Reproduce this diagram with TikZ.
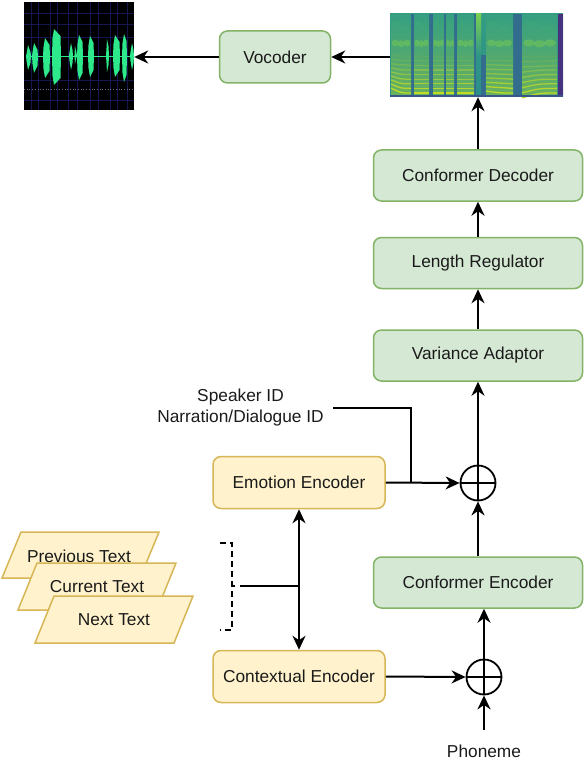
\documentclass[tikz,border=0pt]{standalone}
\usepackage{fontspec}
\setmainfont{Liberation Sans}
\usetikzlibrary{arrows.meta}
\definecolor{gfill}{HTML}{D5E8D4}
\definecolor{gdraw}{HTML}{82B366}
\definecolor{yfill}{HTML}{FFF2CC}
\definecolor{ydraw}{HTML}{D6B656}
\definecolor{txt}{HTML}{1A1A1A}
\definecolor{wgreen}{HTML}{2EE98B}
\definecolor{wgrid}{HTML}{16164E}
\definecolor{vyellow}{HTML}{C8E020}
\definecolor{vteal}{HTML}{2A928A}
\definecolor{vgreen}{HTML}{5EC962}
\definecolor{vblue}{HTML}{33668D}
\definecolor{vpurple}{HTML}{46327E}
\definecolor{vlg}{HTML}{7AD151}
\tikzset{
  gbox/.style={draw=gdraw, fill=gfill, rounded corners=8pt, line width=1.5pt,
    minimum width=209pt, minimum height=51pt, inner sep=0pt, text=txt,
    font=\fontsize{17.3}{20}\selectfont},
  ybox/.style={draw=ydraw, fill=yfill, rounded corners=8pt, line width=1.5pt,
    minimum width=172pt, minimum height=52pt, inner sep=0pt, text=txt,
    font=\fontsize{17.3}{20}\selectfont},
  lbl/.style={text=txt, font=\fontsize{17.3}{21}\selectfont, inner sep=0pt},
  plus/.style={draw=black, circle, line width=1.8pt, minimum size=35pt, inner sep=0pt},
  conn/.style={line width=2pt, -{Stealth[length=14pt,width=13pt,inset=4.5pt]}},
  conntwo/.style={line width=2pt, {Stealth[length=14pt,width=13pt,inset=4.5pt]}-{Stealth[length=14pt,width=13pt,inset=4.5pt]}},
  wire/.style={line width=2pt},
  para/.style={draw=ydraw, fill=yfill, line width=1.5pt, line join=miter},
}
\begin{document}
\begin{tikzpicture}[x=1pt,y=-1pt]
\useasboundingbox (0,0) rectangle (584,762);

% ---------- waveform image ----------
\node[minimum width=110pt, minimum height=108pt, inner sep=0pt] (wave) at (79,56) {};
\fill[black] (24,2) rectangle (134,110);
\foreach \gx in {31,38,50,57,68,77,90,98,110,117,127} \draw[wgrid, line width=0.7pt] (\gx,2) -- (\gx,110);
\foreach \gy in {13,24,37,80,100} \draw[wgrid, line width=0.7pt] (24,\gy) -- (134,\gy);
\draw[wgrid!60!white, line width=0.7pt, dotted] (24,89) -- (134,89);
\draw[wgreen, line width=0.8pt] (26,56) -- (134,56);
\foreach \xa/\xb/\xm/\ya/\yb in {26/31/28/45/70, 32/38/34/43/73, 43/50/45/38/78, 52/61/54/29/85,
   69/73/71/43/70, 74/77/75/46/64, 77/83/79/35/80, 88/94/90/36/77, 106/109/107/39/72,
   113/120/115/35/77, 122/127/124/34/82, 130/134/132/43/70}
{
  \fill[wgreen] (\xa,56) -- (\xa+0.5,{\ya+9}) -- (\xm,\ya) -- (\xb-0.5,{\ya+7}) -- (\xb,56)
     -- (\xb-0.5,{\yb-7}) -- (\xm,\yb) -- (\xa+0.5,{\yb-9}) -- cycle;
}

% ---------- spectrogram image ----------
\node[minimum width=173pt, minimum height=83pt, inner sep=0pt] (spec) at (476.5,55.5) {};
\fill[top color=vteal!80!vgreen, bottom color=vteal!90!vblue] (390,14) rectangle (563,97);
\foreach \xa/\xb in {411/414, 429/433, 444/446, 454/457, 474/476, 513/522}
  \fill[vblue!85!vteal] (\xa,14) rectangle (\xb,97);
\fill[vblue!85!vteal] (481,55) rectangle (486,97);
\fill[top color=vlg, bottom color=vteal] (476,14) rectangle (481,58);
\foreach \xa/\xb/\sl in {391/411/-5, 414/429/0, 433/444/0, 446/454/0, 457/474/0, 486/513/-2, 522/557/5}
{
  \fill[top color=vteal!75!vgreen, middle color=vteal!80!vgreen, bottom color=vteal!60!vyellow] (\xa,16) rectangle (\xb,95);
  \foreach \j in {0,1,2}
    \fill[vgreen!70!vyellow, opacity=0.45] ({\xa+(\xb-\xa)*(0.2+0.3*\j)},{43+1.5*\j-1.5*\j*\j/2}) ellipse ({(\xb-\xa)*0.17} and 3.5);
  \foreach \j in {0,1}
    \fill[vteal!60!vgreen, opacity=0.5] ({\xa+(\xb-\xa)*(0.3+0.4*\j)},{24+4*\j}) ellipse ({(\xb-\xa)*0.2} and 3);
  \foreach \k in {0,...,8}
  {
    \pgfmathtruncatemacro{\pc}{95-8*\k}
    \draw[vyellow!\pc!vteal, line width=1.3pt] (\xa,{93-4.6*\k+\sl*(1-\k/9)}) .. controls ({\xa+(\xb-\xa)/2},{93-4.6*\k}) .. (\xb,{93-4.6*\k});
  }
}
\fill[vpurple] (558,14) rectangle (563,97);
\fill[vblue!70!vpurple] (390,95) rectangle (563,97);

% ---------- boxes ----------
\node[gbox, minimum width=111pt, minimum height=52pt] (voc) at (275,57) {Vocoder};
\node[gbox] (dec) at (478,175.5) {Conformer Decoder};
\node[gbox] (lr)  at (478,263) {Length Regulator};
\node[gbox] (va)  at (478,355.5) {Variance Adaptor};
\node[gbox] (enc) at (478,582.5) {Conformer Encoder};
\node[ybox] (emo) at (299,482.5) {Emotion Encoder};
\node[ybox] (ctx) at (299,676.5) {Contextual Encoder};

\node[plus] (plusA) at (478,483) {};
\draw[line width=1.8pt] (plusA.north) -- (plusA.south) (plusA.west) -- (plusA.east);
\node[plus] (plusB) at (484,677) {};
\draw[line width=1.8pt] (plusB.north) -- (plusB.south) (plusB.west) -- (plusB.east);

% ---------- parallelograms ----------
\draw[para] (2,578) -- (21,532) -- (159,532) -- (140,578) -- cycle;
\node[lbl] (prev) at (79,556) {Previous Text};
\draw[para] (18,610) -- (37,563) -- (176,563) -- (157,610) -- cycle;
\node[lbl] (cur) at (97,587) {Current Text};
\draw[para] (35,643) -- (54,596) -- (193,596) -- (174,643) -- cycle;
\node[lbl] (nxt) at (114,620) {Next Text};

% ---------- dashed bracket ----------
\draw[line width=1.6pt, dash pattern=on 6pt off 4pt] (220,543) -- (232,543) -- (232,630) -- (220,630);
\draw[line width=1.6pt] (232,586) -- (235,586);

% ---------- labels ----------
\node[lbl, align=center] (spk) at (240.5,408) {Speaker ID\\Narration/Dialogue ID};
\node[lbl] (ph) at (484,751) {Phoneme};
\coordinate (spkend) at (333,408);
\coordinate (joinA) at (411,483);
\coordinate (brk) at (240,586);
\coordinate (phs) at (484,730);

% ---------- connectors ----------
\draw[conn] (voc.east -| spec.west) -- (voc.east);
\draw[conn] (voc.west) -- (voc.west -| wave.east);
\draw[conn] (dec.north) -- (dec.north |- spec.south);
\draw[conn] (lr.north) -- (dec.south);
\draw[conn] (va.north) -- (lr.south);
\draw[conn] (plusA.north) -- (plusA.north |- va.south);
\draw[conn] (enc.north -| plusA.south) -- (plusA.south);
\draw[conn] (plusB.north) -- (plusB.north |- enc.south);
\draw[conn] (phs) -- (plusB.south);
\draw[conn] (ctx.east) -- (plusB.west);
\draw[conn] (emo.east) -- (plusA.west);
\draw[wire] (spkend) -| (joinA);
\draw[conntwo] (emo.south) -- (ctx.north);
\draw[wire] (brk) -- (brk -| emo.south);
\end{tikzpicture}
\end{document}
